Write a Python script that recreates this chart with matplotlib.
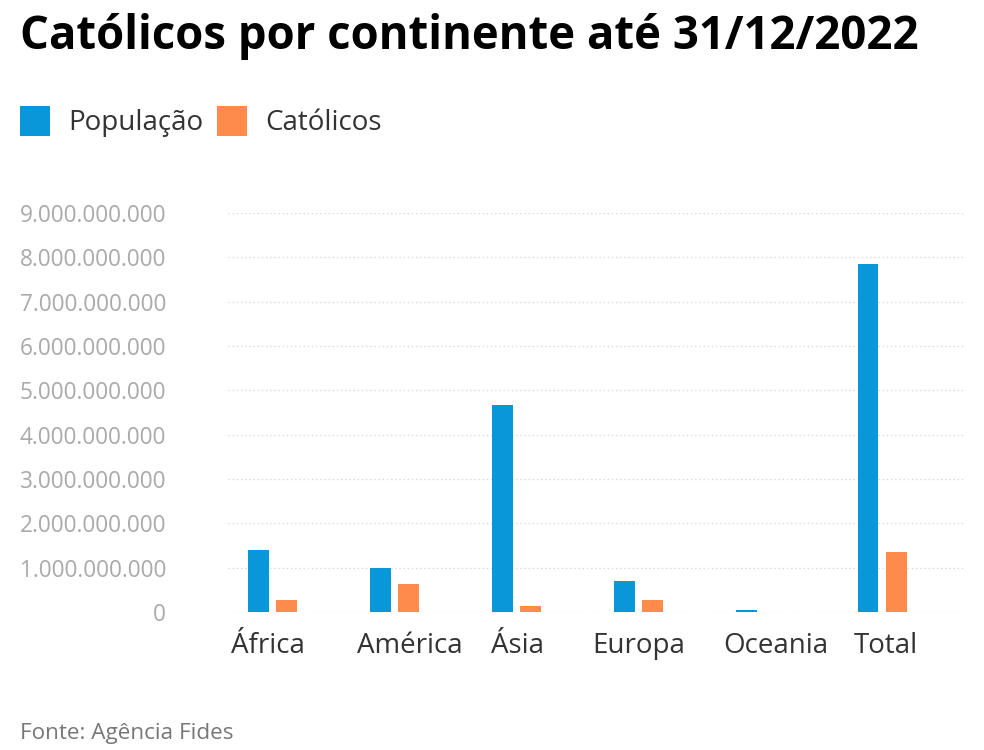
import numpy as np
import matplotlib
matplotlib.use("Agg")
import matplotlib.pyplot as plt
from matplotlib.ticker import FuncFormatter

plt.rcParams['font.family'] = ['Open Sans', 'DejaVu Sans']

continentes = ['África', 'América', 'Ásia', 'Europa', 'Oceania', 'Total']
populacao = [1.39e9, 1.00e9, 4.67e9, 0.70e9, 0.045e9, 7.85e9]
catolicos = [0.28e9, 0.64e9, 0.135e9, 0.265e9, 0.011e9, 1.36e9]
yticks = np.arange(0, 9.1e9, 1e9)

azul = '#0898d9'
laranja = '#fe8a4b'

fig = plt.figure(figsize=(9.84, 7.5), dpi=100)
ax = fig.add_axes([228/984, 1-612/750, (965-228)/984, (612-213)/750])

x = np.arange(len(continentes))
w = 0.172
off = 0.115
ax.bar(x-off, populacao, w, color=azul, label='População', zorder=3)
ax.bar(x+off, catolicos, w, color=laranja, label='Católicos', zorder=3)

ax.set_xlim(-0.367, 5.681)
ax.set_ylim(0, 9e9)
ax.set_yticks(yticks)
ax.yaxis.set_major_formatter(FuncFormatter(lambda v, p: f'{int(round(v)):,}'.replace(',', '.')))
ax.tick_params(axis='y', length=0, pad=44.6, labelsize=16.3, labelcolor='#aaaaaa')
ax.grid(axis='y', color='#d8d8d8', linestyle=(0, (1, 2)), linewidth=1, zorder=0)
for s in ax.spines.values():
    s.set_visible(False)
ax.set_xticks([])

# category labels (not quite centred under the groups in the original)
label_pos = [-0.04, 1.125, 2.01, 3.0, 4.13, 5.03]
for px, nome in zip(label_pos, continentes):
    ax.text(px, -41/399, nome, transform=ax.get_xaxis_transform(), ha='center', va='baseline',
            fontsize=20, color='#333333')

fig.text(20/984, 1-49/750, 'Católicos por continente até 31/12/2022', fontsize=32.8,
         fontweight='bold', color='#000000', va='baseline', ha='left')

# handleheight bigger because legend trims a descent off the patch
fig.legend(loc='upper left', bbox_to_anchor=(20/984, 1-106/750), ncol=2, frameon=False,
           fontsize=20, handlelength=1.08, handleheight=1.285, handletextpad=0.65,
           columnspacing=0.5, borderpad=0, borderaxespad=0, labelcolor='#333333')

fig.text(20/984, 1-739/750, 'Fonte: Agência Fides', fontsize=16.2, color='#777777', va='baseline', ha='left')

fig.savefig('out.png', dpi=100)
